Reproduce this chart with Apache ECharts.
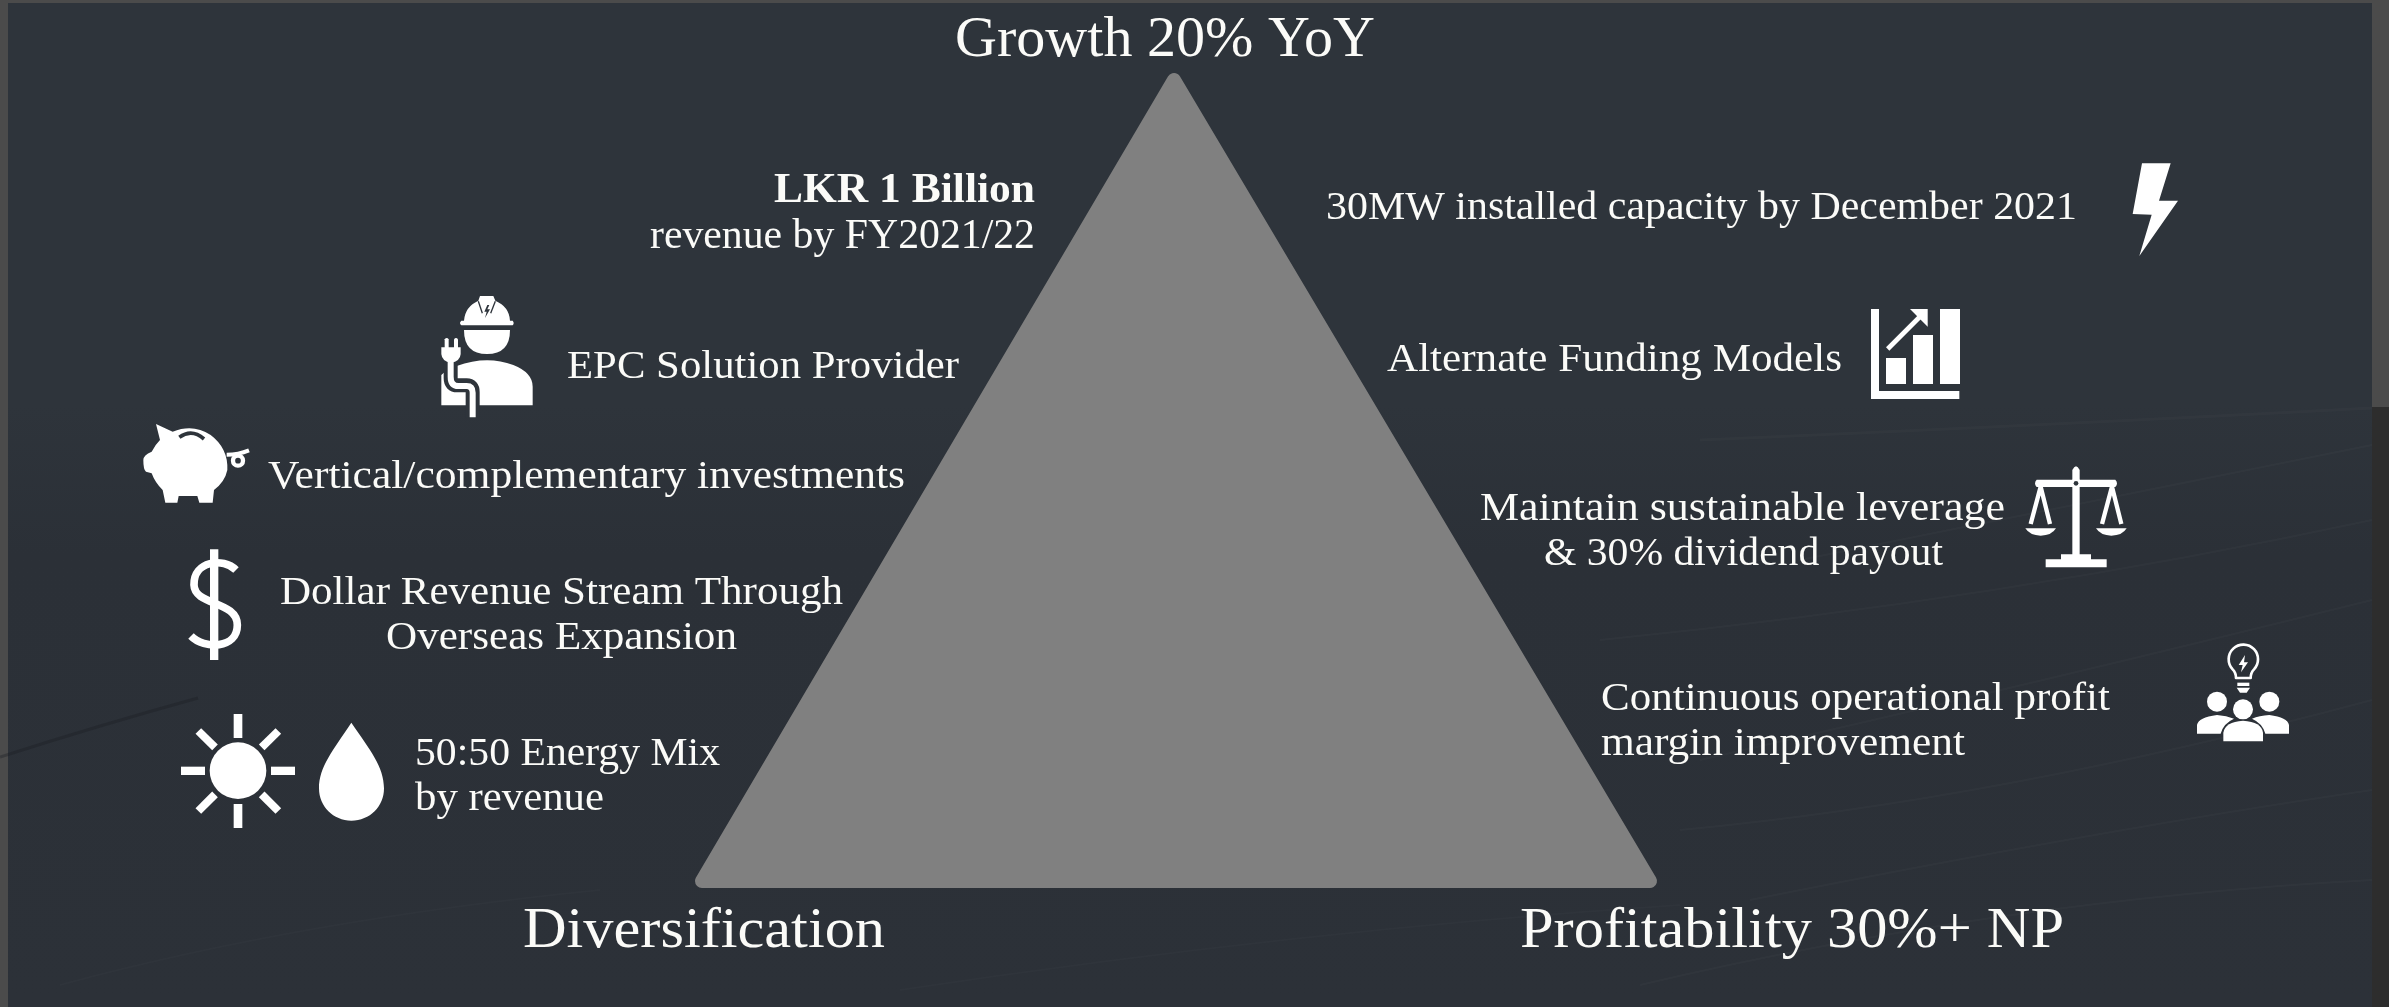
<!DOCTYPE html>
<html>
<head>
<meta charset="utf-8">
<title>Growth pyramid</title>
<style>
html, body { margin: 0; padding: 0; background: #4b4b4b; }
#container { width: 2389px; height: 1007px; }
</style>
<script src="https://cdn.jsdelivr.net/npm/echarts@6/dist/echarts.min.js"></script>
</head>
<body>
<div id="container"></div>
<script>
var headings = ['Growth 20% YoY', 'Diversification', 'Profitability 30%+ NP'];
var revenueTarget = ['LKR 1 Billion', 'revenue by FY2021/22'];
var leftLabels = ['EPC Solution Provider', 'Vertical/complementary investments',
    'Dollar Revenue Stream Through', 'Overseas Expansion', '50:50 Energy Mix', 'by revenue'];
var rightLabels = ['30MW installed capacity by December 2021', 'Alternate Funding Models',
    'Maintain sustainable leverage', '& 30% dividend payout',
    'Continuous operational profit', 'margin improvement'];

var BG = '#2e343b';
var FONT = '"Liberation Serif", serif';

// [text, left edge, right edge, middle y, size, weight]
var textLayout = [
    [headings[0], 955, 1375, 41, 58],
    [headings[1], 523, 885, 932, 58],
    [headings[2], 1520, 2064, 932, 58],
    [revenueTarget[0], 774, 1035, 191, 42, 'bold'],
    [revenueTarget[1], 650, 1035, 237, 42],
    [leftLabels[0], 567, 959, 367, 41],
    [leftLabels[1], 268, 905, 477, 41],
    [leftLabels[2], 280, 843, 593, 41],
    [leftLabels[3], 386, 737, 638, 41],
    [leftLabels[4], 415, 720, 754, 41],
    [leftLabels[5], 415, 604, 799, 41],
    [rightLabels[0], 1326, 2077, 208, 41],
    [rightLabels[1], 1387, 1842, 360, 41],
    [rightLabels[2], 1480, 2005, 509, 41],
    [rightLabels[3], 1544, 1943, 554, 41],
    [rightLabels[4], 1601, 2110, 699, 41],
    [rightLabels[5], 1601, 1965, 744, 41]
];

// squeeze each line to the width it has in the picture
var measure = document.createElement('canvas').getContext('2d');
var textEls = textLayout.map(function (t) {
    var font = (t[5] || 'normal') + ' ' + t[4] + 'px ' + FONT;
    measure.font = font;
    return {
        type: 'text',
        z: 100,
        x: t[1],
        y: t[3],
        scaleX: (t[2] - t[1]) / measure.measureText(t[0]).width,
        silent: true,
        style: { text: t[0], font: font, fill: '#fbfbf8', textAlign: 'left', textVerticalAlign: 'middle' }
    };
});

function white(d) { return { type: 'path', shape: { pathData: d }, style: { fill: '#fff' } }; }
function line(d, w, c) {
    return { type: 'path', shape: { pathData: d }, style: { fill: 'none', stroke: c || '#fff', lineWidth: w, lineJoin: 'round' } };
}
function dot(x, y, r, c) { return { type: 'circle', shape: { cx: x, cy: y, r: r }, style: { fill: c || '#fff' } }; }
function ring(x, y, r, w) { return { type: 'circle', shape: { cx: x, cy: y, r: r }, style: { fill: 'none', stroke: '#fff', lineWidth: w } }; }

var icons = [
    // worker
    [80, 260, [
        white('M1152,182 Q1155,140 1195,122 L1200,108 L1240,108 L1246,122 Q1288,140 1290,182 L1298,182 Q1304,189 1298,196 L1144,196 Q1136,189 1144,182 Z'),
        line('M1195,124 L1207,160', 4, BG),
        line('M1246,124 L1232,160', 4, BG),
        { type: 'path', shape: { pathData: 'M1222,135 L1213,155 L1220,155 L1215,174 L1230,148 L1222,148 L1228,135 Z' }, style: { fill: BG } },
        white('M1152,210 L1290,210 Q1290,282 1221,282 Q1152,282 1152,210 Z'),
        white('M1130,318 Q1220,285 1300,315 Q1358,338 1358,380 L1358,436 L1084,436 L1084,345 Q1100,328 1130,318 Z'),
        line('M1112,300 L1112,355 Q1112,376 1132,376 L1160,376 Q1178,376 1178,396 L1178,472', 42, BG),
        line('M1112,295 L1112,350 Q1112,378 1135,378 L1160,378 Q1178,378 1178,398 L1178,472', 18),
        white('M1084,262 L1142,262 L1142,282 Q1140,305 1113,308 Q1086,305 1084,282 Z'),
        white('M1094,238 Q1100,230 1106,238 L1106,265 L1094,265 Z'),
        white('M1122,238 Q1128,230 1134,238 L1134,265 L1122,265 Z')
    ]],
    // piggy bank
    [80, 260, [
        white('M228,492 L278,515 Q340,490 392,525 Q445,565 442,630 Q435,665 402,690 L398,728 L358,728 L352,708 L296,708 L292,728 L256,728 L248,690 Q225,668 215,640 L198,635 Q190,630 190,600 Q190,585 215,575 Q225,555 240,540 Z'),
        line('M298,532 Q335,505 372,537', 11, BG),
        ring(474, 602, 15, 13),
        line('M440,584 Q475,584 507,571', 12)
    ]],
    // dollar
    [130, 530, [
        white('M240,58 L265,58 L265,390 L240,390 Z'),
        line('M318,120 C280,82 190,92 192,165 C194,228 322,212 322,285 C322,358 222,358 183,318', 23)
    ]],
    // sun and drop
    [130, 530, [
        dot(324, 722, 85),
        white('M311,552 L337,552 L337,624 L311,624 Z'),
        white('M311,822 L337,822 L337,894 L311,894 Z'),
        white('M153,710 L225,710 L225,735 L153,735 Z'),
        white('M423,710 L495,710 L495,735 L423,735 Z'),
        line('M205,603 L255,652', 24),
        line('M445,603 L395,652', 24),
        line('M205,843 L255,793', 24),
        line('M445,843 L395,793', 24),
        white('M664,578 C720,660 762,710 762,775 C762,830 720,872 664,872 C610,872 567,830 567,775 C567,710 610,660 664,578 Z')
    ]],
    // lightning bolt
    [1850, 140, [
        white('M876,70 L962,70 L927,182 L984,182 L868,348 L905,224 L848,222 Z')
    ]],
    // bars with arrow
    [1850, 140, [
        white('M63,507 L87,507 L87,753 L328,753 L328,777 L63,777 Z'),
        white('M108,654 L168,654 L168,732 L108,732 Z'),
        white('M189,585 L249,585 L249,732 L189,732 Z'),
        white('M270,507 L330,507 L330,732 L270,732 Z'),
        line('M113,627 L212,528', 14),
        white('M180,507 L233,507 L233,560 Z')
    ]],
    // scales
    [1980, 450, [
        white('M277,60 Q288,38 299,60 L299,320 L277,320 Z'),
        white('M170,89 L406,89 Q416,100 406,111 L170,111 Q160,100 170,89 Z'),
        dot(288, 100, 15),
        dot(288, 100, 7, BG),
        white('M243,313 L333,313 L333,328 L380,328 L380,352 L197,352 L197,328 L243,328 Z'),
        line('M152,222 L182,110 L210,222', 13),
        line('M366,222 L396,110 L424,222', 13),
        white('M136,235 L228,235 Q215,257 182,257 Q150,257 136,235 Z'),
        white('M348,235 L440,235 Q427,257 394,257 Q362,257 348,235 Z')
    ]],
    // people with bulb
    [1980, 450, [
        line('M768,684 Q768,668 758,658 A44,44 0 1 1 822,658 Q812,668 812,684 Z', 8),
        white('M772,698 L808,698 L808,708 L772,708 Z'),
        white('M770,713 L810,713 L800,728 L780,728 Z'),
        white('M795,615 L776,645 L788,645 L783,667 L804,637 L792,637 Z'),
        dot(711, 755, 30),
        dot(868, 755, 30),
        dot(789, 778, 30),
        white('M651,851 L651,825 Q655,802 711,795 Q740,797 762,806 Q730,820 722,851 Z'),
        white('M927,851 L927,825 Q923,802 868,795 Q838,797 816,806 Q848,820 856,851 Z'),
        white('M730,874 L730,848 Q735,815 789,812 Q845,815 849,848 L849,874 Z')
    ]]
];

function renderIcon(params) {
    var icon = icons[params.dataIndex];
    return { type: 'group', x: icon[0], y: icon[1], scaleX: 1 / 3, scaleY: 1 / 3, children: icon[2] };
}

function streak(d, a, w) {
    return { type: 'path', shape: { pathData: d }, style: { fill: 'none', stroke: 'rgba(255,255,255,' + a + ')', lineWidth: w || 2 } };
}

function renderBackdrop() {
    return {
        type: 'group',
        children: [
            { type: 'rect', shape: { x: 0, y: 0, width: 2389, height: 1007 }, style: { fill: '#4b4b4b' } },
            { type: 'rect', shape: { x: 2372, y: 407, width: 17, height: 600 }, style: { fill: '#2d2d2d' } },
            {
                type: 'rect',
                shape: { x: 8, y: 3, width: 2364, height: 1004 },
                style: {
                    fill: {
                        type: 'linear', x: 0, y: 0, x2: 0, y2: 1,
                        colorStops: [
                            { offset: 0, color: '#2e343b' },
                            { offset: 0.4, color: '#2e343b' },
                            { offset: 0.55, color: '#2b3037' },
                            { offset: 1, color: '#2c3138' }
                        ]
                    }
                }
            },
            { type: 'path', shape: { pathData: 'M0,757 Q100,725 198,698' }, style: { fill: 'none', stroke: 'rgba(25,28,33,0.35)', lineWidth: 3 } },
            streak('M1700,440 Q2050,425 2372,408', 0.02, 3),
            streak('M1800,560 Q2100,500 2372,445', 0.025),
            streak('M1600,640 Q2000,600 2372,520', 0.025),
            streak('M1700,760 Q2050,680 2372,600', 0.025),
            streak('M1680,830 Q2000,800 2372,700', 0.025),
            streak('M1750,900 Q2100,830 2372,790', 0.025),
            streak('M1640,985 Q2000,900 2372,880', 0.025),
            streak('M900,990 Q1300,930 1680,905', 0.015),
            streak('M60,985 Q300,920 600,890', 0.015)
        ]
    };
}

function renderPyramid() {
    // thick round stroke gives the soft corners
    return {
        type: 'path',
        shape: { pathData: 'M1174,80 L1650,881 L702,881 Z' },
        style: { fill: '#808080', stroke: '#808080', lineWidth: 14, lineJoin: 'round' }
    };
}

var dom = document.getElementById('container');
var myChart = echarts.init(dom, null, { width: 2389, height: 1007 });
var option = {
    animation: false,
    backgroundColor: '#4b4b4b',
    graphic: { elements: textEls },
    series: [
        { type: 'custom', coordinateSystem: 'none', silent: true, z: 1, data: [0], renderItem: renderBackdrop },
        { type: 'custom', coordinateSystem: 'none', silent: true, z: 2, data: [0], renderItem: renderPyramid },
        { type: 'custom', coordinateSystem: 'none', silent: true, z: 3, data: icons.map(function (d, i) { return i; }), renderItem: renderIcon }
    ]
};
myChart.setOption(option);
</script>
</body>
</html>
